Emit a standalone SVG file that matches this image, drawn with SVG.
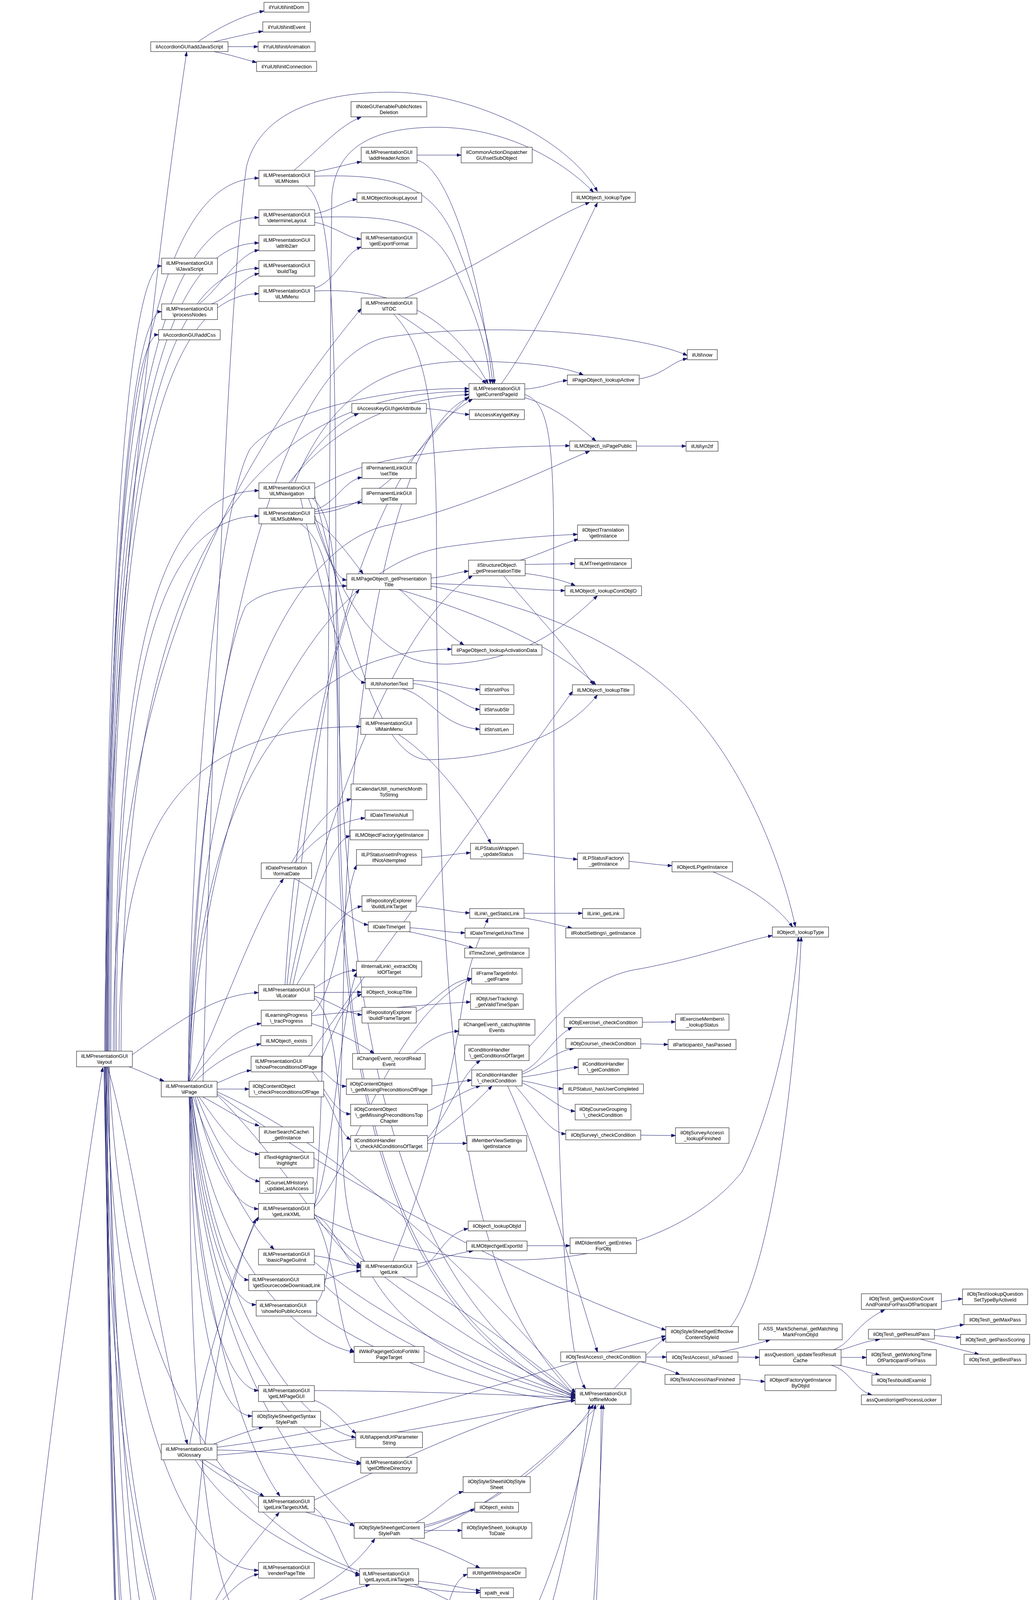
<svg xmlns="http://www.w3.org/2000/svg" width="2643" height="5491" viewBox="0 0 2643 5491">
<style>
.n rect{fill:#fff;stroke:#000;stroke-width:1}
.n text{font-family:"Liberation Sans",Arial,Helvetica,sans-serif;font-size:13px;fill:#000;text-anchor:middle}
.n text.l{text-anchor:start}
#root rect{fill:#bfbfbf}
#edges path{fill:none;stroke:#191970;stroke-width:1;marker-end:url(#a)}
</style>
<defs><marker id="a" markerWidth="11" markerHeight="8" refX="11" refY="4" orient="auto" markerUnits="userSpaceOnUse"><path d="M0,0 L11,4 L0,8 z" fill="#191970" stroke="#191970"/></marker></defs>
<rect width="2643" height="5491" fill="#fff"/>
<g id="edges">
<path d="M80,4115 C120,3700 220,3000 263,2733"/>
<path d="M80,4155 C90,4900 300,5484 650,5484 C1100,5484 1350,5300 1450,4900 C1520,4550 1535,4000 1540,3596"/>
<path d="M268,2691 C272,1800 380,800 478,133"/>
<path d="M272,2691 C272,1350 342,456 663,456"/>
<path d="M275,2691 C275,1411 345,557 663,557"/>
<path d="M278,2691 C278,1450 348,622 663,622"/>
<path d="M270,2691 C270,1485 330,681 414,681"/>
<path d="M281,2691 C281,1489 351,687 663,687"/>
<path d="M284,2691 C284,1528 354,752 663,752"/>
<path d="M273,2691 C273,1555 333,798 414,798"/>
<path d="M276,2691 C276,1591 330,857 406,857"/>
<path d="M290,2691 C292,2000 420,1400 925,790"/>
<path d="M294,2691 C294,1830 364,1256 663,1256"/>
<path d="M298,2691 C298,1869 368,1321 663,1321"/>
<path d="M305,2691 C305,2192 400,1860 924,1860"/>
<path d="M330,2731 C370,2745 395,2760 420,2767"/>
<path d="M339,2700 C450,2620 550,2545 662,2541"/>
<path d="M275,2731 C330,2900 420,3500 480,3697"/>
<path d="M310,2691 C315,1800 450,1002 1201,1002"/>
<path d="M272,2731 C290,3500 450,4020 662,4020"/>
<path d="M268,2731 C280,4300 500,4600 1000,4615 C1250,4620 1420,4300 1510,3596"/>
<path d="M270,2731 C290,4400 600,4790 1000,4790 C1200,4790 1260,4400 1270,4142"/>
<path d="M280,2731 C320,3800 800,4077 1230,4077"/>
<path d="M266,2731 C300,4600 370,5200 450,5300 C600,5450 900,5450 990,4971"/>
<path d="M276,2731 C300,3800 360,4271 413,4271"/>
<path d="M268,2731 C290,4500 380,4900 459,5025"/>
<path d="M270,2731 C285,4700 340,5103 416,5103"/>
<path d="M272,2731 C288,4750 345,5154 413,5154"/>
<path d="M274,2731 C290,4800 350,5205 406,5205"/>
<path d="M278,2731 C300,4500 420,4900 663,4900"/>
<path d="M507,107 C560,70 620,40 676,28"/>
<path d="M548,107 C600,95 640,85 673,80"/>
<path d="M584,119.5 L661,119.5"/>
<path d="M548,132 C590,140 620,150 657,160"/>
<path d="M510,778 C560,740 610,650 663,640"/>
<path d="M542,778 C590,760 620,710 663,700"/>
<path d="M753,436 C820,380 870,320 925,300"/>
<path d="M806,440 C860,430 890,420 925,414"/>
<path d="M806,451 C1000,445 1100,470 1160,600 C1220,750 1262,900 1266,982"/>
<path d="M785,476 C840,520 860,700 860,1400 C860,2600 1000,3300 1473,3570"/>
<path d="M1068,397 L1181,397"/>
<path d="M1068,410 C1150,430 1230,700 1262,982"/>
<path d="M806,547 C850,540 880,515 914,510"/>
<path d="M806,569 C860,580 890,610 925,612"/>
<path d="M806,556 C1000,552 1100,560 1160,680 C1220,800 1250,900 1256,982"/>
<path d="M806,738 C860,720 880,650 925,632"/>
<path d="M806,745 C1000,735 1150,800 1250,982"/>
<path d="M1037,763 C1200,700 1400,560 1510,518"/>
<path d="M1020,804 C1100,850 1200,940 1245,982"/>
<path d="M1008,804 C1080,880 1118,1000 1118,1400 C1118,2800 1200,3300 1473,3572"/>
<path d="M1344,996 C1400,992 1420,976 1453,974"/>
<path d="M1284,982 C1380,850 1480,620 1530,519"/>
<path d="M1344,1018 C1420,1040 1480,1090 1526,1129"/>
<path d="M1344,1010 C1400,1030 1418,1100 1418,1400 C1418,2400 1420,3450 1500,3555"/>
<path d="M1092,1046 C1150,1050 1170,1060 1202,1061"/>
<path d="M1637,970 C1700,960 1720,925 1760,918"/>
<path d="M1630,1142 L1757,1142"/>
<path d="M745,1236 C800,1150 860,1080 918,1059"/>
<path d="M740,1236 C850,1100 1000,1020 1201,1010"/>
<path d="M755,1236 C850,1000 1000,925 1200,925 C1350,925 1450,940 1494,960"/>
<path d="M806,1250 C900,1200 1000,1145 1459,1141"/>
<path d="M790,1276 C830,1380 850,1480 888,1485"/>
<path d="M770,1276 C820,1500 880,1740 936,1748"/>
<path d="M800,1276 C860,1320 870,1500 870,2000 C870,3000 1100,3400 1473,3575"/>
<path d="M806,1270 C870,1500 950,1950 1100,1945 C1300,1940 1450,1880 1530,1779"/>
<path d="M806,1305 C860,1290 880,1230 927,1222"/>
<path d="M806,1310 C860,1300 890,1288 927,1286"/>
<path d="M806,1315 C1000,1300 1100,1100 1201,1015"/>
<path d="M806,1330 C850,1360 900,1430 930,1469"/>
<path d="M770,1341 C850,1400 865,1550 865,2000 C865,3000 1100,3420 1473,3578"/>
<path d="M806,1335 C900,1600 1000,1705 1150,1700 C1350,1690 1450,1600 1530,1525"/>
<path d="M1104,1480 C1150,1475 1170,1465 1200,1462"/>
<path d="M1104,1494 C1250,1497 1350,1510 1447,1512"/>
<path d="M1024,1509 C1080,1560 1140,1620 1188,1651"/>
<path d="M1020,1509 C1200,1560 1420,1650 1526,1753"/>
<path d="M1104,1500 C1400,1560 1600,1650 1750,1800 C1900,1950 2000,2200 2037,2372"/>
<path d="M1345,1445 L1472,1443"/>
<path d="M1345,1468 C1400,1475 1440,1485 1473,1499"/>
<path d="M1290,1474 C1350,1550 1450,1650 1520,1753"/>
<path d="M1333,1434 C1380,1420 1420,1400 1481,1380"/>
<path d="M1058,1742 C1150,1745 1190,1765 1229,1765"/>
<path d="M1058,1750 C1150,1760 1190,1815 1229,1816"/>
<path d="M1030,1763 C1100,1780 1130,1860 1229,1867"/>
<path d="M1020,1880 C1100,1930 1200,2050 1257,2159"/>
<path d="M746,2209 C800,2120 850,2060 899,2045"/>
<path d="M754,2209 C820,2130 880,2100 935,2094"/>
<path d="M754,2249 C830,2290 900,2360 943,2368"/>
<path d="M1080,2195 C1140,2192 1170,2185 1205,2183"/>
<path d="M1340,2184 C1400,2190 1440,2197 1479,2200"/>
<path d="M1611,2205 C1660,2210 1690,2215 1721,2216"/>
<path d="M1826,2232 C1920,2270 1990,2320 2030,2373"/>
<path d="M1066,2320 C1130,2325 1160,2336 1203,2337"/>
<path d="M1342,2338 L1492,2338"/>
<path d="M1342,2350 C1400,2360 1430,2368 1465,2376"/>
<path d="M1050,2375 C1120,2380 1150,2388 1191,2388"/>
<path d="M1047,2385 C1120,2400 1170,2415 1212,2427"/>
<path d="M805,2541 L926,2540"/>
<path d="M760,2521 C820,2420 870,2330 927,2320"/>
<path d="M805,2550 C860,2570 890,2595 927,2598"/>
<path d="M805,2530 C850,2500 880,2485 913,2484"/>
<path d="M742,2521 C800,2200 1000,1600 1210,1474"/>
<path d="M735,2521 C780,2100 850,1600 920,1509"/>
<path d="M730,2521 C760,2000 900,1200 1210,1022"/>
<path d="M750,2521 C800,2300 850,2150 897,2140"/>
<path d="M805,2555 C860,2600 870,2800 880,3000 C900,3400 1200,3500 1473,3580"/>
<path d="M798,2620 C860,2640 920,2670 958,2697"/>
<path d="M798,2596 C860,2550 880,2300 913,2215"/>
<path d="M798,2600 C900,2590 1100,2570 1205,2565"/>
<path d="M1060,2697 C1100,2660 1140,2640 1175,2640"/>
<path d="M1066,2590 C1120,2560 1150,2510 1208,2505"/>
<path d="M824,2740 C850,2760 860,2780 887,2781"/>
<path d="M800,2744 C840,2800 860,2850 898,2852"/>
<path d="M790,2704 C1000,2400 1300,2000 1466,1770"/>
<path d="M824,2710 C870,2600 890,2560 926,2545"/>
<path d="M829,2800 C860,2850 870,2900 898,2918"/>
<path d="M1106,2780 C1150,2775 1180,2768 1208,2765"/>
<path d="M1095,2845 C1150,2820 1190,2790 1230,2780"/>
<path d="M1095,2915 C1150,2850 1180,2750 1230,2715"/>
<path d="M1095,2920 C1160,2880 1220,2820 1260,2780"/>
<path d="M1095,2927 L1196,2927"/>
<path d="M1355,2680 C1420,2610 1500,2500 1640,2480 C1800,2450 1900,2410 1978,2395"/>
<path d="M1337,2745 C1390,2720 1410,2660 1465,2630"/>
<path d="M1337,2750 C1390,2730 1420,2690 1470,2684"/>
<path d="M1337,2757 C1400,2750 1440,2735 1481,2732"/>
<path d="M1337,2767 C1390,2775 1410,2787 1442,2787"/>
<path d="M1337,2772 C1400,2800 1430,2840 1473,2845"/>
<path d="M1320,2780 C1380,2850 1410,2900 1449,2903"/>
<path d="M1300,2780 C1380,2950 1480,3300 1530,3461"/>
<path d="M805,3110 C1200,3300 1700,3250 1900,3000 C2000,2800 2040,2500 2045,2399"/>
<path d="M1871,3396 C1950,3300 2030,2900 2052,2399"/>
<path d="M1645,2617 L1730,2616"/>
<path d="M1641,2672 L1711,2674"/>
<path d="M1641,2906 L1730,2907"/>
<path d="M1654,3474 L1707,3474"/>
<path d="M1640,3486 C1680,3495 1710,3505 1741,3519"/>
<path d="M1890,3474 L1945,3475"/>
<path d="M1845,3461 C1900,3450 1940,3440 1972,3430"/>
<path d="M1895,3531 C1920,3532 1940,3535 1959,3537"/>
<path d="M2135,3455 C2180,3440 2190,3390 2266,3353"/>
<path d="M2150,3457 C2190,3445 2220,3432 2253,3429"/>
<path d="M2154,3475 L2219,3475"/>
<path d="M2150,3495 C2190,3505 2220,3512 2253,3520"/>
<path d="M2129,3495 C2180,3510 2190,3560 2233,3571"/>
<path d="M2411,3332 C2430,3330 2445,3326 2465,3325"/>
<path d="M2393,3405 C2420,3400 2440,3395 2469,3391"/>
<path d="M2393,3419 C2420,3421 2440,3424 2460,3424"/>
<path d="M2357,3428 C2400,3440 2460,3455 2507,3467"/>
<path d="M1350,3189 L1460,3189"/>
<path d="M805,3110 C860,3130 880,3240 924,3245"/>
<path d="M805,3085 C850,3000 870,2600 913,2490"/>
<path d="M805,3090 C900,3000 1000,2600 1208,2505"/>
<path d="M805,3115 C860,3200 870,3440 907,3460"/>
<path d="M805,3095 C845,2800 842,1000 850,500 C860,380 950,330 1100,326 C1300,320 1450,420 1520,492"/>
<path d="M805,3118 C1000,3300 1300,3500 1473,3573"/>
<path d="M1068,3235 C1120,3225 1160,3210 1212,3202"/>
<path d="M1068,3245 C1120,3240 1130,3160 1199,3145"/>
<path d="M1031,3269 C1200,3350 1350,3480 1473,3570"/>
<path d="M1006,3229 C1080,3050 1150,2800 1180,2600 C1200,2450 1230,2400 1250,2351"/>
<path d="M805,3215 C860,3220 890,3240 924,3242"/>
<path d="M805,3230 C1000,3400 1300,3520 1473,3575"/>
<path d="M831,3290 C1000,3450 1300,3560 1473,3580"/>
<path d="M831,3275 C870,3265 890,3255 924,3253"/>
<path d="M811,3335 C850,3300 870,3000 880,2500 C890,1800 1000,1100 1201,1018"/>
<path d="M811,3360 C1000,3500 1300,3580 1473,3585"/>
<path d="M805,3585 C850,3600 880,3640 911,3670"/>
<path d="M805,3560 C1000,3560 1300,3570 1473,3578"/>
<path d="M805,3860 C860,3900 880,4030 921,4033"/>
<path d="M805,3840 C1000,3750 1300,3600 1473,3585"/>
<path d="M1065,3898 C1120,3870 1150,3830 1186,3818"/>
<path d="M1087,3905 C1150,3890 1180,3870 1216,3865"/>
<path d="M1087,3918 L1183,3918"/>
<path d="M1049,3938 C1120,3960 1180,3990 1229,4014"/>
<path d="M1087,3910 C1300,3850 1450,3700 1520,3596"/>
<path d="M1087,3925 C1400,3800 1600,3500 1705,3425"/>
<path d="M1072,4048 C1150,4055 1190,4068 1230,4072"/>
<path d="M1061,4056 C1120,4080 1160,4105 1204,4120"/>
<path d="M805,4190 C860,4192 890,4195 925,4195"/>
<path d="M557,4275 C620,4280 650,4293 691,4295"/>
<path d="M539,4291 C600,4305 640,4325 686,4340"/>
<path d="M504,4291 C560,4340 610,4400 665,4437"/>
<path d="M495,4291 C560,4420 620,4505 696,4512"/>
<path d="M490,4291 C540,4450 610,4560 698,4562"/>
<path d="M488,4291 C530,4500 600,4650 665,4707"/>
<path d="M497,4291 C600,4500 800,4620 900,4700 C950,4750 980,4800 990,4845"/>
<path d="M486,4291 C530,4550 620,4750 750,4800 C850,4840 880,4880 910,4945"/>
<path d="M470,4252 C520,4150 600,4040 662,4030"/>
<path d="M495,4252 C520,4100 650,3950 715,3872"/>
<path d="M480,4252 C500,3800 560,3300 662,3115"/>
<path d="M505,4252 C600,4150 850,4100 960,3939"/>
<path d="M510,4252 C650,4150 850,4080 947,4057"/>
<path d="M540,4291 C700,4400 900,4430 1050,4420 C1250,4400 1400,4200 1525,3596"/>
<path d="M557,4270 C800,4255 1050,4250 1110,4220 C1140,4200 1140,4050 1197,4030"/>
<path d="M823,4457 L919,4457"/>
<path d="M812,4726 L895,4726"/>
<path d="M807,4745 C850,4770 860,4870 902,4895"/>
<path d="M806,4885 C860,4875 890,4868 930,4866"/>
<path d="M759,4914 C850,4980 950,5020 1100,5050 C1250,5075 1380,5000 1420,4900 C1500,4600 1530,4000 1545,3596"/>
<path d="M1063,4850 C1120,4845 1150,4838 1183,4835"/>
<path d="M1063,4858 C1110,4862 1140,4880 1170,4885"/>
<path d="M1063,4866 C1110,4872 1140,4890 1160,4905 C1180,4920 1190,4925 1200,4930"/>
<path d="M1088,4957 C1120,4955 1150,4952 1183,4952"/>
<path d="M1057,4945 C1110,4930 1170,4915 1212,4904"/>
<path d="M568,5038 C600,5030 620,5018 647,5015"/>
<path d="M568,5048 C600,5055 620,5070 643,5075"/>
<path d="M555,5064 C600,5080 620,5120 643,5138"/>
<path d="M560,5064 C610,5090 610,5190 661,5198"/>
<path d="M565,5064 C615,5100 600,5230 631,5248"/>
<path d="M570,5064 C620,5120 600,5290 646,5303"/>
<path d="M575,5064 C625,5150 580,5360 647,5368"/>
<path d="M523,5025 C620,4980 750,4940 886,4919"/>
<path d="M486,2768 C550,2650 650,2350 726,2250"/>
<path d="M490,2768 C540,2700 600,2630 669,2620"/>
<path d="M500,2768 C550,2720 600,2690 668,2672"/>
<path d="M556,2772 C590,2760 610,2745 643,2740"/>
<path d="M556,2788 L638,2788"/>
<path d="M519,2808 C580,2840 620,2870 664,2882"/>
<path d="M510,2808 C560,2880 610,2950 664,2955"/>
<path d="M505,2808 C550,2920 600,3010 665,3025"/>
<path d="M500,2808 C540,2980 600,3090 662,3095"/>
<path d="M495,2808 C560,3000 650,3150 702,3198"/>
<path d="M492,2808 C520,3050 580,3270 637,3277"/>
<path d="M490,2808 C510,3100 580,3340 656,3340"/>
<path d="M488,2808 C495,3300 580,3555 662,3560"/>
<path d="M486,2808 C490,3400 560,3625 646,3625"/>
<path d="M484,2808 C500,3300 620,3700 717,3830"/>
<path d="M484,2768 C500,2200 560,1700 629,1552 C680,1500 800,1500 888,1500"/>
<path d="M482,2768 C490,2000 560,1300 640,1150 C720,1050 1000,990 1201,995"/>
<path d="M520,2768 C540,2000 580,800 631,428 C660,300 800,236 1000,236 C1200,236 1450,350 1530,490"/>
<path d="M486,2808 C520,3500 800,3800 907,3908"/>
<path d="M488,2808 C520,3400 750,3700 924,3745"/>
<path d="M492,2808 C540,3200 750,3430 907,3462"/>
<path d="M490,2808 C530,3300 750,3650 911,3680"/>
<path d="M556,2800 C900,3050 1400,3300 1705,3405"/>
<path d="M556,2795 C900,2950 1250,3300 1473,3565"/>
<path d="M556,2803 C750,3000 850,3200 924,3240"/>
<path d="M486,2808 C480,3800 560,4180 662,4185"/>
<path d="M484,2768 C500,2100 700,1660 1157,1662"/>
<path d="M484,2768 C500,2000 700,1400 1000,1343 C1200,1300 1400,1200 1510,1155"/>
<path d="M486,2768 C520,2000 800,1450 1143,1400 C1300,1378 1420,1370 1479,1368"/>
<path d="M482,2768 C500,1800 700,900 1000,862 C1300,820 1650,860 1760,910"/>
<path d="M547,3697 C590,3680 630,3665 674,3653"/>
<path d="M486,3697 C520,3500 600,3250 655,3121"/>
<path d="M556,3712 C750,3715 850,3740 924,3748"/>
<path d="M522,3737 C580,3770 630,3800 676,3831"/>
<path d="M511,3737 C600,3820 800,3880 907,3905"/>
<path d="M500,3737 C600,3900 800,3990 921,4030"/>
<path d="M556,3725 C900,3700 1250,3620 1473,3585"/>
<path d="M556,3705 C1000,3650 1400,3500 1705,3420"/>
</g>
<g id="root" class="n"><rect x="5" y="4115" width="143" height="40"/><text x="76.5" y="4132">ilLMPresentationGUI</text><text x="76.5" y="4147">\fullscreen</text></g>
<g id="n_layout" class="n"><rect x="196" y="2691" width="143" height="40"/><text x="267.5" y="2708">ilLMPresentationGUI</text><text x="267.5" y="2723">\layout</text></g>
<g id="n_addJavaScript" class="n"><rect x="386" y="107" width="198" height="25"/><text x="485" y="124">ilAccordionGUI\addJavaScript</text></g>
<g id="n_ilJavaScript" class="n"><rect x="414" y="661" width="143" height="40"/><text x="485.5" y="678">ilLMPresentationGUI</text><text x="485.5" y="693">\ilJavaScript</text></g>
<g id="n_processNodes" class="n"><rect x="414" y="778" width="143" height="40"/><text x="485.5" y="795">ilLMPresentationGUI</text><text x="485.5" y="810">\processNodes</text></g>
<g id="n_addCss" class="n"><rect x="406" y="844" width="158" height="26"/><text x="485" y="862">ilAccordionGUI\addCss</text></g>
<g id="n_ilPage" class="n"><rect x="413" y="2768" width="143" height="40"/><text x="484.5" y="2785">ilLMPresentationGUI</text><text x="484.5" y="2800">\ilPage</text></g>
<g id="n_ilGlossary" class="n"><rect x="413" y="3697" width="143" height="40"/><text x="484.5" y="3714">ilLMPresentationGUI</text><text x="484.5" y="3729">\ilGlossary</text></g>
<g id="n_ilMedia" class="n"><rect x="413" y="4252" width="144" height="39"/><text x="485" y="4269">ilLMPresentationGUI</text><text x="485" y="4284">\ilMedia</text></g>
<g id="n_supplying" class="n"><rect x="402" y="5025" width="166" height="39"/><text class="l" x="411" y="5042">ilObjContentObject</text><text x="485" y="5057">\getSupplyingExportFiles</text></g>
<g id="n_domxml" class="n"><rect x="416" y="5091" width="139" height="25"/><text x="485.5" y="5108">domxml_open_mem</text></g>
<g id="n_initjQuery" class="n"><rect x="413" y="5141" width="145" height="26"/><text x="485.5" y="5159">iljQueryUtil\initjQuery</text></g>
<g id="n_initjQueryUI" class="n"><rect x="406" y="5192" width="158" height="26"/><text x="485" y="5210">iljQueryUtil\initjQueryUI</text></g>
<g id="n_initDom" class="n"><rect x="676" y="6" width="115" height="25"/><text x="733.5" y="23">ilYuiUtil\initDom</text></g>
<g id="n_initEvent" class="n"><rect x="673" y="56" width="122" height="26"/><text x="734" y="74">ilYuiUtil\initEvent</text></g>
<g id="n_initAnimation" class="n"><rect x="661" y="107" width="146" height="25"/><text x="734" y="124">ilYuiUtil\initAnimation</text></g>
<g id="n_initConnection" class="n"><rect x="657" y="157" width="154" height="26"/><text x="734" y="175">ilYuiUtil\initConnection</text></g>
<g id="n_ilLMNotes" class="n"><rect x="663" y="436" width="143" height="40"/><text x="734.5" y="453">ilLMPresentationGUI</text><text x="734.5" y="468">\ilLMNotes</text></g>
<g id="n_determineLayout" class="n"><rect x="663" y="537" width="143" height="40"/><text x="734.5" y="554">ilLMPresentationGUI</text><text x="734.5" y="569">\determineLayout</text></g>
<g id="n_attrib2arr" class="n"><rect x="663" y="602" width="143" height="40"/><text x="734.5" y="619">ilLMPresentationGUI</text><text x="734.5" y="634">\attrib2arr</text></g>
<g id="n_buildTag" class="n"><rect x="663" y="667" width="143" height="40"/><text x="734.5" y="684">ilLMPresentationGUI</text><text x="734.5" y="699">\buildTag</text></g>
<g id="n_ilLMMenu" class="n"><rect x="663" y="732" width="143" height="40"/><text x="734.5" y="749">ilLMPresentationGUI</text><text x="734.5" y="764">\ilLMMenu</text></g>
<g id="n_ilLMNavigation" class="n"><rect x="663" y="1236" width="143" height="40"/><text x="734.5" y="1253">ilLMPresentationGUI</text><text x="734.5" y="1268">\ilLMNavigation</text></g>
<g id="n_ilLMSubMenu" class="n"><rect x="663" y="1301" width="143" height="40"/><text x="734.5" y="1318">ilLMPresentationGUI</text><text x="734.5" y="1333">\ilLMSubMenu</text></g>
<g id="n_formatDate" class="n"><rect x="669" y="2209" width="129" height="40"/><text x="733.5" y="2226">ilDatePresentation</text><text x="733.5" y="2241">\formatDate</text></g>
<g id="n_ilLocator" class="n"><rect x="662" y="2521" width="143" height="40"/><text x="733.5" y="2538">ilLMPresentationGUI</text><text x="733.5" y="2553">\ilLocator</text></g>
<g id="n_tracProgress" class="n"><rect x="669" y="2586" width="129" height="40"/><text x="733.5" y="2603">ilLearningProgress</text><text x="733.5" y="2618">\_tracProgress</text></g>
<g id="n_lmExists" class="n"><rect x="668" y="2651" width="131" height="26"/><text x="733.5" y="2669">ilLMObject\_exists</text></g>
<g id="n_showPrecond" class="n"><rect x="643" y="2704" width="181" height="40"/><text class="l" x="653" y="2721">ilLMPresentationGUI</text><text x="733.5" y="2736">\showPreconditionsOfPage</text></g>
<g id="n_checkPrecond" class="n"><rect x="638" y="2768" width="191" height="40"/><text class="l" x="647" y="2785">ilObjContentObject</text><text x="733.5" y="2800">\_checkPreconditionsOfPage</text></g>
<g id="n_userSearch" class="n"><rect x="664" y="2885" width="139" height="40"/><text x="733.5" y="2902">ilUserSearchCache\</text><text x="733.5" y="2917">_getInstance</text></g>
<g id="n_textHighlighter" class="n"><rect x="664" y="2950" width="140" height="40"/><text x="734" y="2967">ilTextHighlighterGUI</text><text x="734" y="2982">\highlight</text></g>
<g id="n_courseLM" class="n"><rect x="665" y="3015" width="137" height="40"/><text x="733.5" y="3032">ilCourseLMHistory\</text><text x="733.5" y="3047">_updateLastAccess</text></g>
<g id="n_getLinkXML" class="n"><rect x="662" y="3081" width="143" height="40"/><text x="733.5" y="3098">ilLMPresentationGUI</text><text x="733.5" y="3113">\getLinkXML</text></g>
<g id="n_basicPage" class="n"><rect x="662" y="3198" width="143" height="40"/><text x="733.5" y="3215">ilLMPresentationGUI</text><text x="733.5" y="3230">\basicPageGuiInit</text></g>
<g id="n_sourcecode" class="n"><rect x="637" y="3263" width="194" height="41"/><text class="l" x="646" y="3280">ilLMPresentationGUI</text><text x="734" y="3295">\getSourcecodeDownloadLink</text></g>
<g id="n_noPublic" class="n"><rect x="656" y="3329" width="155" height="40"/><text class="l" x="665" y="3346">ilLMPresentationGUI</text><text x="733.5" y="3361">\showNoPublicAccess</text></g>
<g id="n_getLMPageGUI" class="n"><rect x="662" y="3547" width="143" height="41"/><text x="733.5" y="3564">ilLMPresentationGUI</text><text x="733.5" y="3579">\getLMPageGUI</text></g>
<g id="n_syntaxStyle" class="n"><rect x="646" y="3613" width="175" height="40"/><text x="733.5" y="3630">ilObjStyleSheet\getSyntax</text><text x="733.5" y="3645">StylePath</text></g>
<g id="n_linkTargetsXML" class="n"><rect x="662" y="3831" width="143" height="40"/><text x="733.5" y="3848">ilLMPresentationGUI</text><text x="733.5" y="3863">\getLinkTargetsXML</text></g>
<g id="n_renderPageTitle" class="n"><rect x="662" y="4000" width="143" height="40"/><text x="733.5" y="4017">ilLMPresentationGUI</text><text x="733.5" y="4032">\renderPageTitle</text></g>
<g id="n_getLMPage" class="n"><rect x="662" y="4168" width="143" height="41"/><text x="733.5" y="4185">ilLMPresentationGUI</text><text x="733.5" y="4200">\getLMPage</text></g>
<g id="n_xsltCreate" class="n"><rect x="691" y="4284" width="86" height="25"/><text x="734" y="4301">xslt_create</text></g>
<g id="n_xsltProcess" class="n"><rect x="686" y="4334" width="96" height="26"/><text x="734" y="4352">xslt_process</text></g>
<g id="n_mapAreas" class="n"><rect x="645" y="4437" width="178" height="40"/><text x="734" y="4454">ilMediaItem\_getMapAreas</text><text x="734" y="4469">IntLinks</text></g>
<g id="n_xsltError" class="n"><rect x="696" y="4503" width="76" height="25"/><text x="734" y="4520">xslt_error</text></g>
<g id="n_xsltFree" class="n"><rect x="698" y="4553" width="72" height="26"/><text x="734" y="4571">xslt_free</text></g>
<g id="n_includePresJS" class="n"><rect x="656" y="4707" width="156" height="39"/><text class="l" x="665" y="4724">ilObjMediaObjectGUI</text><text x="734" y="4739">\includePresentationJS</text></g>
<g id="n_ilLMHead" class="n"><rect x="663" y="4875" width="143" height="39"/><text x="734.5" y="4892">ilLMPresentationGUI</text><text x="734.5" y="4907">\ilLMHead</text></g>
<g id="n_cssPath" class="n"><rect x="647" y="4992" width="174" height="40"/><text x="734" y="5009">ilPlayerUtil\getLocalMedia</text><text x="734" y="5024">ElementCssPath</text></g>
<g id="n_explorerJs" class="n"><rect x="643" y="5057" width="182" height="40"/><text x="734" y="5074">ilExplorerBaseGUI\getLocal</text><text x="734" y="5089">ExplorerJsPath</text></g>
<g id="n_jsTree" class="n"><rect x="643" y="5122" width="182" height="40"/><text x="734" y="5139">ilExplorerBaseGUI\getLocal</text><text x="734" y="5154">JsTreeJsPath</text></g>
<g id="n_yuiLocal" class="n"><rect x="661" y="5188" width="146" height="25"/><text x="734" y="5205">ilYuiUtil\getLocalPath</text></g>
<g id="n_jqPath" class="n"><rect x="631" y="5238" width="205" height="26"/><text x="733.5" y="5256">iljQueryUtil\getLocaljQueryPath</text></g>
<g id="n_jqUIPath" class="n"><rect x="646" y="5290" width="177" height="40"/><text x="734.5" y="5307">iljQueryUtil\getLocaljQuery</text><text x="734.5" y="5322">UIPath</text></g>
<g id="n_meJsPath" class="n"><rect x="647" y="5355" width="174" height="40"/><text x="734" y="5372">ilPlayerUtil\getLocalMedia</text><text x="734" y="5387">ElementJsPath</text></g>
<g id="n_noteGUI" class="n"><rect x="899" y="260" width="194" height="39"/><text x="996" y="277">ilNoteGUI\enablePublicNotes</text><text x="996" y="292">Deletion</text></g>
<g id="n_addHeader" class="n"><rect x="925" y="377" width="143" height="40"/><text x="996.5" y="394">ilLMPresentationGUI</text><text x="996.5" y="409">\addHeaderAction</text></g>
<g id="n_lookupLayout" class="n"><rect x="914" y="494" width="166" height="24"/><text x="997" y="511">ilLMObject\lookupLayout</text></g>
<g id="n_exportFormat" class="n"><rect x="925" y="596" width="143" height="40"/><text x="996.5" y="613">ilLMPresentationGUI</text><text x="996.5" y="628">\getExportFormat</text></g>
<g id="n_ilTOC" class="n"><rect x="925" y="763" width="143" height="41"/><text x="996.5" y="780">ilLMPresentationGUI</text><text x="996.5" y="795">\ilTOC</text></g>
<g id="n_accessKeyGUI" class="n"><rect x="901" y="1033" width="191" height="25"/><text x="996.5" y="1050">ilAccessKeyGUI\getAttribute</text></g>
<g id="n_setTitle" class="n"><rect x="927" y="1185" width="139" height="40"/><text x="996.5" y="1202">ilPermanentLinkGUI</text><text x="996.5" y="1217">\setTitle</text></g>
<g id="n_getTitle" class="n"><rect x="927" y="1250" width="139" height="40"/><text x="996.5" y="1267">ilPermanentLinkGUI</text><text x="996.5" y="1282">\getTitle</text></g>
<g id="n_lmPageTitle" class="n"><rect x="888" y="1469" width="216" height="40"/><text x="996" y="1486">ilLMPageObject\_getPresentation</text><text x="996" y="1501">Title</text></g>
<g id="n_shortenText" class="n"><rect x="936" y="1737" width="122" height="26"/><text x="997" y="1755">ilUtil\shortenText</text></g>
<g id="n_ilMainMenu" class="n"><rect x="924" y="1839" width="144" height="41"/><text x="996" y="1856">ilLMPresentationGUI</text><text x="996" y="1871">\ilMainMenu</text></g>
<g id="n_calendar" class="n"><rect x="899" y="2007" width="194" height="40"/><text x="996" y="2024">ilCalendarUtil\_numericMonth</text><text x="996" y="2039">ToString</text></g>
<g id="n_isNull" class="n"><rect x="935" y="2074" width="123" height="25"/><text x="996.5" y="2091">ilDateTime\isNull</text></g>
<g id="n_lmObjFactory" class="n"><rect x="897" y="2125" width="200" height="25"/><text x="997" y="2142">ilLMObjectFactory\getInstance</text></g>
<g id="n_setInProgress" class="n"><rect x="913" y="2175" width="167" height="40"/><text x="996.5" y="2192">ilLPStatus\setInProgress</text><text x="996.5" y="2207">IfNotAttempted</text></g>
<g id="n_buildLinkTarget" class="n"><rect x="927" y="2293" width="139" height="40"/><text x="996.5" y="2310">ilRepositoryExplorer</text><text x="996.5" y="2325">\buildLinkTarget</text></g>
<g id="n_dtGet" class="n"><rect x="943" y="2360" width="107" height="25"/><text x="996.5" y="2377">ilDateTime\get</text></g>
<g id="n_extractObj" class="n"><rect x="913" y="2461" width="167" height="40"/><text x="996.5" y="2478">ilInternalLink\_extractObj</text><text x="996.5" y="2493">IdOfTarget</text></g>
<g id="n_objLookupTitle" class="n"><rect x="926" y="2527" width="141" height="25"/><text x="996.5" y="2544">ilObject\_lookupTitle</text></g>
<g id="n_buildFrameTarget" class="n"><rect x="927" y="2579" width="139" height="40"/><text x="996.5" y="2596">ilRepositoryExplorer</text><text x="996.5" y="2611">\buildFrameTarget</text></g>
<g id="n_recordRead" class="n"><rect x="903" y="2697" width="186" height="40"/><text x="996" y="2714">ilChangeEvent\_recordRead</text><text x="996" y="2729">Event</text></g>
<g id="n_missingPage" class="n"><rect x="887" y="2762" width="219" height="40"/><text class="l" x="896" y="2779">ilObjContentObject</text><text x="996.5" y="2794">\_getMissingPreconditionsOfPage</text></g>
<g id="n_missingTop" class="n"><rect x="898" y="2827" width="197" height="55"/><text class="l" x="907" y="2844">ilObjContentObject</text><text x="996.5" y="2859">\_getMissingPreconditionsTop</text><text x="996.5" y="2874">Chapter</text></g>
<g id="n_checkAllCond" class="n"><rect x="898" y="2907" width="197" height="40"/><text class="l" x="907" y="2924">ilConditionHandler</text><text x="996.5" y="2939">\_checkAllConditionsOfTarget</text></g>
<g id="n_getLink" class="n"><rect x="924" y="3229" width="144" height="40"/><text x="996" y="3246">ilLMPresentationGUI</text><text x="996" y="3261">\getLink</text></g>
<g id="n_wiki" class="n"><rect x="907" y="3447" width="179" height="41"/><text x="996.5" y="3464">ilWikiPage\getGotoForWiki</text><text x="996.5" y="3479">PageTarget</text></g>
<g id="n_appendUrl" class="n"><rect x="911" y="3666" width="171" height="40"/><text x="996.5" y="3683">ilUtil\appendUrlParameter</text><text x="996.5" y="3698">String</text></g>
<g id="n_offlineDir" class="n"><rect x="924" y="3731" width="144" height="40"/><text x="996" y="3748">ilLMPresentationGUI</text><text x="996" y="3763">\getOfflineDirectory</text></g>
<g id="n_contentStyle" class="n"><rect x="907" y="3898" width="180" height="40"/><text x="997" y="3915">ilObjStyleSheet\getContent</text><text x="997" y="3930">StylePath</text></g>
<g id="n_layoutLinkTargets" class="n"><rect x="921" y="4016" width="151" height="40"/><text class="l" x="929" y="4033">ilLMPresentationGUI</text><text x="996.5" y="4048">\getLayoutLinkTargets</text></g>
<g id="n_pageExists" class="n"><rect x="925" y="4183" width="142" height="25"/><text x="996" y="4200">ilPageObject\_exists</text></g>
<g id="n_mapIntLinks" class="n"><rect x="919" y="4444" width="155" height="25"/><text x="996.5" y="4461">ilMapArea\_getIntLinks</text></g>
<g id="n_initME" class="n"><rect x="895" y="4714" width="203" height="25"/><text x="996.5" y="4731">ilPlayerUtil\initMediaElementJs</text></g>
<g id="n_getImagePath" class="n"><rect x="930" y="4845" width="133" height="24"/><text x="996.5" y="4862">ilUtil\getImagePath</text></g>
<g id="n_maphilight" class="n"><rect x="884" y="4895" width="225" height="24"/><text x="996.5" y="4912">iljQueryUtil\getLocalMaphilightPath</text></g>
<g id="n_styleSheetLoc" class="n"><rect x="906" y="4945" width="182" height="25"/><text x="997" y="4962">ilUtil\getStyleSheetLocation</text></g>
<g id="n_setSubObject" class="n"><rect x="1181" y="377" width="182" height="40"/><text x="1272" y="394">ilCommonActionDispatcher</text><text x="1272" y="409">GUI\setSubObject</text></g>
<g id="n_getCurrentPageId" class="n"><rect x="1201" y="982" width="143" height="40"/><text x="1272.5" y="999">ilLMPresentationGUI</text><text x="1272.5" y="1014">\getCurrentPageId</text></g>
<g id="n_getKey" class="n"><rect x="1202" y="1049" width="141" height="25"/><text x="1272.5" y="1066">ilAccessKey\getKey</text></g>
<g id="n_structTitle" class="n"><rect x="1200" y="1434" width="145" height="40"/><text x="1272.5" y="1451">ilStructureObject\</text><text x="1272.5" y="1466">_getPresentationTitle</text></g>
<g id="n_activationData" class="n"><rect x="1157" y="1651" width="231" height="26"/><text x="1272.5" y="1669">ilPageObject\_lookupActivationData</text></g>
<g id="n_strPos" class="n"><rect x="1229" y="1753" width="87" height="25"/><text x="1272.5" y="1770">ilStr\strPos</text></g>
<g id="n_subStr" class="n"><rect x="1229" y="1804" width="87" height="25"/><text x="1272.5" y="1821">ilStr\subStr</text></g>
<g id="n_strLen" class="n"><rect x="1229" y="1854" width="86" height="26"/><text x="1272" y="1872">ilStr\strLen</text></g>
<g id="n_lpWrapper" class="n"><rect x="1205" y="2159" width="135" height="40"/><text x="1272.5" y="2176">ilLPStatusWrapper\</text><text x="1272.5" y="2191">_updateStatus</text></g>
<g id="n_staticLink" class="n"><rect x="1203" y="2326" width="139" height="25"/><text x="1272.5" y="2343">ilLink\_getStaticLink</text></g>
<g id="n_unixTime" class="n"><rect x="1191" y="2376" width="163" height="25"/><text x="1272.5" y="2393">ilDateTime\getUnixTime</text></g>
<g id="n_timeZone" class="n"><rect x="1190" y="2427" width="165" height="25"/><text x="1272.5" y="2444">ilTimeZone\_getInstance</text></g>
<g id="n_frame" class="n"><rect x="1208" y="2479" width="129" height="40"/><text x="1272.5" y="2496">ilFrameTargetInfo\</text><text x="1272.5" y="2511">_getFrame</text></g>
<g id="n_validTime" class="n"><rect x="1205" y="2544" width="135" height="40"/><text x="1272.5" y="2561">ilObjUserTracking\</text><text x="1272.5" y="2576">_getValidTimeSpan</text></g>
<g id="n_catchup" class="n"><rect x="1175" y="2610" width="195" height="40"/><text x="1272.5" y="2627">ilChangeEvent\_catchupWrite</text><text x="1272.5" y="2642">Events</text></g>
<g id="n_condOfTarget" class="n"><rect x="1190" y="2675" width="165" height="40"/><text class="l" x="1199" y="2692">ilConditionHandler</text><text x="1272.5" y="2707">\_getConditionsOfTarget</text></g>
<g id="n_checkCond" class="n"><rect x="1208" y="2739" width="129" height="41"/><text x="1272.5" y="2756">ilConditionHandler</text><text x="1272.5" y="2771">\_checkCondition</text></g>
<g id="n_memberView" class="n"><rect x="1196" y="2907" width="153" height="40"/><text x="1272.5" y="2924">ilMemberViewSettings</text><text x="1272.5" y="2939">\getInstance</text></g>
<g id="n_lookupObjId" class="n"><rect x="1199" y="3126" width="147" height="25"/><text x="1272.5" y="3143">ilObject\_lookupObjId</text></g>
<g id="n_exportId" class="n"><rect x="1195" y="3177" width="155" height="25"/><text x="1272.5" y="3194">ilLMObject\getExportId</text></g>
<g id="n_objStyle" class="n"><rect x="1186" y="3780" width="172" height="41"/><text x="1272" y="3797">ilObjStyleSheet\ilObjStyle</text><text x="1272" y="3812">Sheet</text></g>
<g id="n_objExists" class="n"><rect x="1216" y="3846" width="112" height="25"/><text x="1272" y="3863">ilObject\_exists</text></g>
<g id="n_upToDate" class="n"><rect x="1183" y="3898" width="179" height="40"/><text x="1272.5" y="3915">ilObjStyleSheet\_lookupUp</text><text x="1272.5" y="3930">ToDate</text></g>
<g id="n_webspace" class="n"><rect x="1197" y="4014" width="150" height="25"/><text x="1272" y="4031">ilUtil\getWebspaceDir</text></g>
<g id="n_xpathEval" class="n"><rect x="1230" y="4065" width="85" height="25"/><text x="1272.5" y="4082">xpath_eval</text></g>
<g id="n_xpathNew" class="n"><rect x="1204" y="4116" width="136" height="25"/><text x="1272" y="4133">xpath_new_context</text></g>
<g id="n_masterStyle" class="n"><rect x="1183" y="4813" width="179" height="40"/><text x="1272.5" y="4830">ilStyleDefinition\getCurrent</text><text x="1272.5" y="4845">MasterStyle</text></g>
<g id="n_skin" class="n"><rect x="1170" y="4879" width="205" height="25"/><text x="1272.5" y="4896">ilStyleDefinition\getCurrentSkin</text></g>
<g id="n_curStyle" class="n"><rect x="1183" y="4930" width="179" height="40"/><text x="1272.5" y="4947">ilStyleDefinition\getCurrent</text><text x="1272.5" y="4962">Style</text></g>
<g id="n_lmLookupType" class="n"><rect x="1464" y="492" width="163" height="26"/><text x="1545.5" y="510">ilLMObject\_lookupType</text></g>
<g id="n_lookupActive" class="n"><rect x="1453" y="960" width="184" height="25"/><text x="1545" y="977">ilPageObject\_lookupActive</text></g>
<g id="n_isPagePublic" class="n"><rect x="1459" y="1129" width="171" height="25"/><text x="1544.5" y="1146">ilLMObject\_isPagePublic</text></g>
<g id="n_objTranslation" class="n"><rect x="1479" y="1344" width="131" height="40"/><text x="1544.5" y="1361">ilObjectTranslation</text><text x="1544.5" y="1376">\getInstance</text></g>
<g id="n_lmTree" class="n"><rect x="1472" y="1430" width="145" height="25"/><text x="1544.5" y="1447">ilLMTree\getInstance</text></g>
<g id="n_contObjID" class="n"><rect x="1447" y="1500" width="196" height="25"/><text x="1545" y="1517">ilLMObject\_lookupContObjID</text></g>
<g id="n_lookupTitle" class="n"><rect x="1466" y="1753" width="158" height="26"/><text x="1545" y="1771">ilLMObject\_lookupTitle</text></g>
<g id="n_lpFactory" class="n"><rect x="1479" y="2184" width="132" height="40"/><text x="1545" y="2201">ilLPStatusFactory\</text><text x="1545" y="2216">_getInstance</text></g>
<g id="n_ilLinkGetLink" class="n"><rect x="1492" y="2326" width="106" height="25"/><text x="1545" y="2343">ilLink\_getLink</text></g>
<g id="n_robot" class="n"><rect x="1449" y="2376" width="192" height="25"/><text x="1545" y="2393">ilRobotSettings\_getInstance</text></g>
<g id="n_exercise" class="n"><rect x="1445" y="2605" width="200" height="25"/><text x="1545" y="2622">ilObjExercise\_checkCondition</text></g>
<g id="n_course" class="n"><rect x="1449" y="2659" width="192" height="25"/><text x="1545" y="2676">ilObjCourse\_checkCondition</text></g>
<g id="n_getCondition" class="n"><rect x="1481" y="2711" width="128" height="40"/><text x="1545" y="2728">ilConditionHandler</text><text x="1545" y="2743">\_getCondition</text></g>
<g id="n_hasUserCompleted" class="n"><rect x="1442" y="2775" width="206" height="25"/><text x="1545" y="2792">ilLPStatus\_hasUserCompleted</text></g>
<g id="n_courseGrouping" class="n"><rect x="1473" y="2827" width="143" height="40"/><text x="1544.5" y="2844">ilObjCourseGrouping</text><text x="1544.5" y="2859">\_checkCondition</text></g>
<g id="n_survey" class="n"><rect x="1449" y="2893" width="192" height="25"/><text x="1545" y="2910">ilObjSurvey\_checkCondition</text></g>
<g id="n_mdIdentifier" class="n"><rect x="1460" y="3169" width="170" height="40"/><text x="1545" y="3186">ilMDIdentifier\_getEntries</text><text x="1545" y="3201">ForObj</text></g>
<g id="n_testAccess" class="n"><rect x="1436" y="3461" width="218" height="25"/><text x="1545" y="3478">ilObjTestAccess\_checkCondition</text></g>
<g id="n_offlineMode" class="n"><rect x="1473" y="3555" width="143" height="40"/><text x="1544.5" y="3572">ilLMPresentationGUI</text><text x="1544.5" y="3587">\offlineMode</text></g>
<g id="n_now" class="n"><rect x="1760" y="895" width="77" height="26"/><text x="1798.5" y="913">ilUtil\now</text></g>
<g id="n_yn2tf" class="n"><rect x="1757" y="1130" width="82" height="25"/><text x="1798" y="1147">ilUtil\yn2tf</text></g>
<g id="n_objectLP" class="n"><rect x="1721" y="2206" width="155" height="26"/><text x="1798.5" y="2224">ilObjectLP\getInstance</text></g>
<g id="n_exMembers" class="n"><rect x="1730" y="2596" width="137" height="41"/><text x="1798.5" y="2613">ilExerciseMembers\</text><text x="1798.5" y="2628">_lookupStatus</text></g>
<g id="n_participants" class="n"><rect x="1711" y="2661" width="174" height="26"/><text x="1798" y="2679">ilParticipants\_hasPassed</text></g>
<g id="n_surveyAccess" class="n"><rect x="1730" y="2887" width="137" height="40"/><text x="1798.5" y="2904">ilObjSurveyAccess\</text><text x="1798.5" y="2919">_lookupFinished</text></g>
<g id="n_effectiveStyle" class="n"><rect x="1705" y="3396" width="186" height="40"/><text x="1798" y="3413">ilObjStyleSheet\getEffective</text><text x="1798" y="3428">ContentStyleId</text></g>
<g id="n_isPassed" class="n"><rect x="1707" y="3461" width="183" height="26"/><text x="1798.5" y="3479">ilObjTestAccess\_isPassed</text></g>
<g id="n_hasFinished" class="n"><rect x="1703" y="3519" width="192" height="25"/><text x="1799" y="3536">ilObjTestAccess\hasFinished</text></g>
<g id="n_objLookupType" class="n"><rect x="1978" y="2373" width="144" height="26"/><text x="2050" y="2391">ilObject\_lookupType</text></g>
<g id="n_markSchema" class="n"><rect x="1943" y="3389" width="214" height="41"/><text x="2050" y="3406">ASS_MarkSchema\_getMatching</text><text x="2050" y="3421">MarkFromObjId</text></g>
<g id="n_updateCache" class="n"><rect x="1945" y="3455" width="209" height="40"/><text x="2049.5" y="3472">assQuestion\_updateTestResult</text><text x="2049.5" y="3487">Cache</text></g>
<g id="n_objFactory" class="n"><rect x="1959" y="3520" width="182" height="40"/><text x="2050" y="3537">ilObjectFactory\getInstance</text><text x="2050" y="3552">ByObjId</text></g>
<g id="n_questionCount" class="n"><rect x="2206" y="3312" width="205" height="40"/><text x="2308.5" y="3329">ilObjTest\_getQuestionCount</text><text x="2308.5" y="3344">AndPointsForPassOfParticipant</text></g>
<g id="n_resultPass" class="n"><rect x="2224" y="3403" width="169" height="25"/><text x="2308.5" y="3420">ilObjTest\_getResultPass</text></g>
<g id="n_workingTime" class="n"><rect x="2219" y="3455" width="179" height="40"/><text x="2308.5" y="3472">ilObjTest\_getWorkingTime</text><text x="2308.5" y="3487">OfParticipantForPass</text></g>
<g id="n_examId" class="n"><rect x="2233" y="3520" width="151" height="26"/><text x="2308.5" y="3538">ilObjTest\buildExamId</text></g>
<g id="n_processLocker" class="n"><rect x="2206" y="3571" width="205" height="25"/><text x="2308.5" y="3588">assQuestion\getProcessLocker</text></g>
<g id="n_lookupQuestion" class="n"><rect x="2465" y="3300" width="167" height="40"/><text x="2548.5" y="3317">ilObjTest\lookupQuestion</text><text x="2548.5" y="3332">SetTypeByActiveId</text></g>
<g id="n_maxPass" class="n"><rect x="2469" y="3365" width="159" height="26"/><text x="2548.5" y="3383">ilObjTest\_getMaxPass</text></g>
<g id="n_passScoring" class="n"><rect x="2460" y="3416" width="177" height="26"/><text x="2548.5" y="3434">ilObjTest\_getPassScoring</text></g>
<g id="n_bestPass" class="n"><rect x="2469" y="3467" width="159" height="26"/><text x="2548.5" y="3485">ilObjTest\_getBestPass</text></g>
</svg>
